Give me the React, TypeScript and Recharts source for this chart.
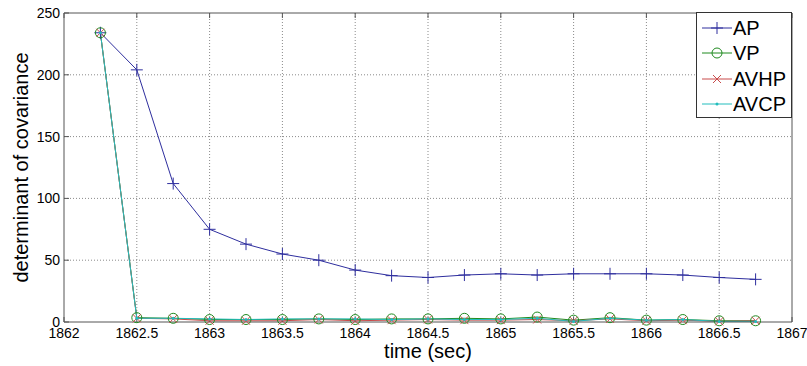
import React from 'react';
import {
  LineChart,
  Line,
  XAxis,
  YAxis,
  CartesianGrid,
} from 'recharts';

const times = [
  1862.25, 1862.5, 1862.75, 1863, 1863.25, 1863.5, 1863.75, 1864, 1864.25, 1864.5,
  1864.75, 1865, 1865.25, 1865.5, 1865.75, 1866, 1866.25, 1866.5, 1866.75,
];
const apValues = [234, 204, 112, 75, 63, 55, 50, 42, 37.5, 36, 38, 39, 38, 39, 39, 39, 38, 36, 34.5];
const vpValues = [234, 3.5, 3, 2, 2, 2, 2.5, 2, 2.5, 2.5, 3, 2.5, 4, 1.5, 3.5, 1.5, 2, 1, 1];
const avhpValues = [234, 3, 2.5, 1, 1, 1, 2, 1, 1.5, 2, 1.5, 1.5, 2, 1, 2.5, 1, 1.5, 0.5, 1];
const avcpValues = [234, 3, 3, 2.5, 2, 2.5, 2.5, 2.5, 2, 2.5, 2, 2, 3, 0.5, 3, 1.5, 2, 0.5, 0.5];

const xTicks = [1862, 1862.5, 1863, 1863.5, 1864, 1864.5, 1865, 1865.5, 1866, 1866.5, 1867];
const yTicks = [0, 50, 100, 150, 200, 250];
const xGrid = [1862.5, 1863, 1863.5, 1864, 1864.5, 1865, 1865.5, 1866, 1866.5];
const yGrid = [50, 100, 150, 200];

const data = times.map((t, i) => ({
  t,
  AP: apValues[i],
  VP: vpValues[i],
  AVHP: avhpValues[i],
  AVCP: avcpValues[i],
}));

const COLORS = {
  AP: '#2e2e9e',
  VP: '#1f8a1f',
  AVHP: '#c84b4b',
  AVCP: '#22bdbd',
};

const FONT = 'Liberation Sans, Arial, sans-serif';
const AXIS = '#555';

const PlusDot = (props: any) => {
  const { cx, cy, stroke } = props;
  if (cx == null || cy == null) return <g />;
  return (
    <g stroke={stroke} strokeWidth={1}>
      <line x1={cx - 6} y1={cy} x2={cx + 6} y2={cy} />
      <line x1={cx} y1={cy - 6} x2={cx} y2={cy + 6} />
    </g>
  );
};

const CircleDot = (props: any) => {
  const { cx, cy, stroke } = props;
  if (cx == null || cy == null) return <g />;
  return <circle cx={cx} cy={cy} r={5} fill="none" stroke={stroke} strokeWidth={1} />;
};

const CrossDot = (props: any) => {
  const { cx, cy, stroke } = props;
  if (cx == null || cy == null) return <g />;
  return (
    <g stroke={stroke} strokeWidth={1}>
      <line x1={cx - 4} y1={cy - 4} x2={cx + 4} y2={cy + 4} />
      <line x1={cx - 4} y1={cy + 4} x2={cx + 4} y2={cy - 4} />
    </g>
  );
};

const PointDot = (props: any) => {
  const { cx, cy, stroke } = props;
  if (cx == null || cy == null) return <g />;
  return <circle cx={cx} cy={cy} r={1.5} fill={stroke} stroke="none" />;
};

const legendItems = [
  { name: 'AP', color: COLORS.AP, marker: 'plus' },
  { name: 'VP', color: COLORS.VP, marker: 'circle' },
  { name: 'AVHP', color: COLORS.AVHP, marker: 'cross' },
  { name: 'AVCP', color: COLORS.AVCP, marker: 'point' },
];

const LegendBox = () => (
  <div
    style={{
      position: 'absolute',
      left: 696,
      top: 12,
      border: '1px solid #333',
      background: '#fff',
      width: 96,
      height: 106,
      boxSizing: 'border-box',
      paddingTop: 2,
      fontFamily: FONT,
      fontSize: 20,
    }}
  >
    {legendItems.map((it) => (
      <div key={it.name} style={{ display: 'flex', alignItems: 'center', height: 25.5 }}>
        <svg width={36} height={20} style={{ flexShrink: 0 }}>
          <line x1={5} y1={10} x2={35} y2={10} stroke={it.color} strokeWidth={1} />
          {it.marker === 'plus' && <PlusDot cx={20} cy={10} stroke={it.color} />}
          {it.marker === 'circle' && <CircleDot cx={20} cy={10} stroke={it.color} />}
          {it.marker === 'cross' && <CrossDot cx={20} cy={10} stroke={it.color} />}
          {it.marker === 'point' && <PointDot cx={20} cy={10} stroke={it.color} />}
        </svg>
        <span style={{ color: '#000', lineHeight: '20px' }}>{it.name}</span>
      </div>
    ))}
  </div>
);

const emptyTick = () => <g />;

export default function App() {
  return (
    <div style={{ position: 'absolute', left: 0, top: 0, width: 807, height: 366, background: '#fff' }}>
      <LineChart
        width={807}
        height={366}
        data={data}
        margin={{ top: 0, right: 0, bottom: 0, left: 0 }}
      >
        <CartesianGrid
          xAxisId="bottom"
          yAxisId="left"
          stroke="#8a8a8a"
          strokeDasharray="1 2"
          horizontalValues={yGrid}
          verticalValues={xGrid}
        />
        <XAxis
          xAxisId="bottom"
          dataKey="t"
          type="number"
          domain={[1862, 1867]}
          ticks={xTicks}
          interval={0}
          height={44}
          stroke={AXIS}
          tickSize={-5}
          tickMargin={11}
          tick={{ fill: '#000', fontSize: 14, fontFamily: FONT }}
          tickFormatter={(v: number) => String(v)}
          label={{
            value: 'time (sec)',
            position: 'insideBottom',
            offset: 8,
            fill: '#000',
            fontSize: 20,
            fontFamily: FONT,
          }}
        />
        <XAxis
          xAxisId="top"
          orientation="top"
          dataKey="t"
          type="number"
          domain={[1862, 1867]}
          ticks={xTicks}
          height={13}
          stroke={AXIS}
          tickSize={-5}
          tick={emptyTick}
        />
        <YAxis
          yAxisId="left"
          domain={[0, 250]}
          ticks={yTicks}
          width={64}
          stroke={AXIS}
          tickSize={-5}
          tickMargin={9}
          tick={{ fill: '#000', fontSize: 14, fontFamily: FONT }}
          label={{
            value: 'determinant of covariance',
            angle: -90,
            position: 'insideLeft',
            offset: 21,
            fill: '#000',
            fontSize: 20,
            fontFamily: FONT,
            style: { textAnchor: 'middle' },
          }}
        />
        <YAxis
          yAxisId="right"
          orientation="right"
          domain={[0, 250]}
          ticks={yTicks}
          width={15}
          stroke={AXIS}
          tickSize={-5}
          tick={emptyTick}
        />
        <Line
          xAxisId="bottom"
          yAxisId="left"
          type="linear"
          dataKey="AP"
          stroke={COLORS.AP}
          strokeWidth={1}
          dot={<PlusDot />}
          activeDot={false}
          isAnimationActive={false}
        />
        <Line
          xAxisId="bottom"
          yAxisId="left"
          type="linear"
          dataKey="VP"
          stroke={COLORS.VP}
          strokeWidth={1}
          dot={<CircleDot />}
          activeDot={false}
          isAnimationActive={false}
        />
        <Line
          xAxisId="bottom"
          yAxisId="left"
          type="linear"
          dataKey="AVHP"
          stroke={COLORS.AVHP}
          strokeWidth={1}
          dot={<CrossDot />}
          activeDot={false}
          isAnimationActive={false}
        />
        <Line
          xAxisId="bottom"
          yAxisId="left"
          type="linear"
          dataKey="AVCP"
          stroke={COLORS.AVCP}
          strokeWidth={1}
          dot={<PointDot />}
          activeDot={false}
          isAnimationActive={false}
        />
      </LineChart>
      <LegendBox />
    </div>
  );
}
